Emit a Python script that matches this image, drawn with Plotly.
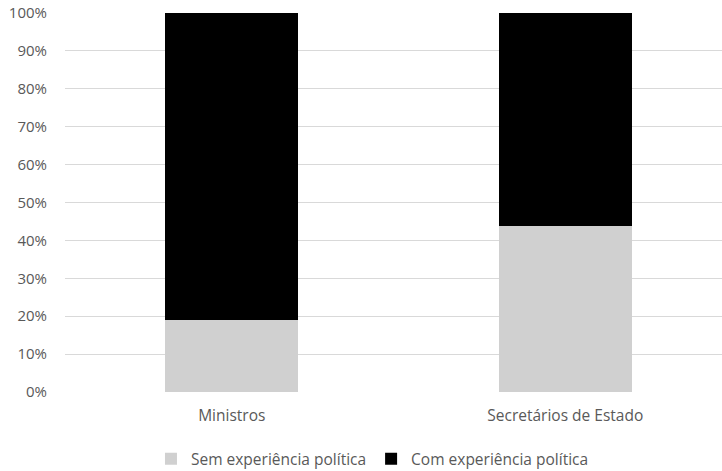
import plotly.graph_objects as go

categories = ["Ministros", "Secretários de Estado"]
sem_exp = [0.19, 0.437]
com_exp = [0.81, 0.563]
series_names = ["Sem experiência política", "Com experiência política"]
tick_vals = [0, 0.1, 0.2, 0.3, 0.4, 0.5, 0.6, 0.7, 0.8, 0.9, 1.0]
tick_text = ["0%", "10%", "20%", "30%", "40%", "50%", "60%", "70%", "80%", "90%", "100%"]

font_family = "Open Sans, Liberation Sans, Arial, sans-serif"

fig = go.Figure()
fig.add_trace(go.Bar(x=[0, 1], y=sem_exp, name=series_names[0],
                     marker=dict(color="#d0d0d0", line=dict(width=0)), width=0.4))
fig.add_trace(go.Bar(x=[0, 1], y=com_exp, name=series_names[1],
                     marker=dict(color="#000000", line=dict(width=0)), width=0.4))

fig.update_layout(
    barmode="stack",
    width=722, height=471,
    margin=dict(l=65, r=0, t=13, b=79, autoexpand=False),
    paper_bgcolor="white", plot_bgcolor="white",
    font=dict(family=font_family, size=15, color="#595959"),
    xaxis=dict(range=[-0.5, 1.47], tickmode="array", tickvals=[0, 1], ticktext=categories,
               showgrid=False, zeroline=False, showline=False, ticks="",
               ticklabelstandoff=12,
               tickfont=dict(size=15.5, color="#595959")),
    yaxis=dict(range=[0, 1], tickmode="array", tickvals=tick_vals, ticktext=tick_text,
               showgrid=True, gridcolor="#d9d9d9", gridwidth=1, zeroline=False,
               showline=False, ticks="", ticklabelstandoff=17,
               tickfont=dict(size=15, color="#595959")),
    legend=dict(orientation="h", x=0.468, xanchor="center",
                yref="container", y=0.025, yanchor="middle",
                font=dict(size=15.5, color="#595959"), traceorder="normal",
                itemwidth=30, itemsizing="constant"),
    bargap=0,
)

fig.write_html("out.html")
